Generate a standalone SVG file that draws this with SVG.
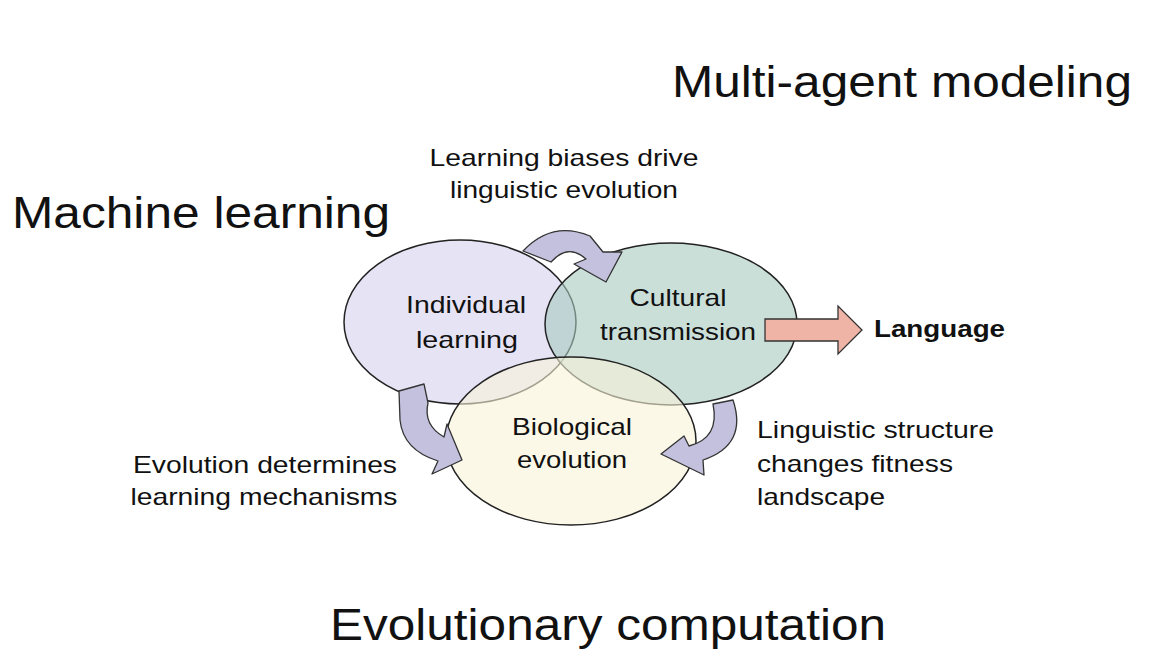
<svg xmlns="http://www.w3.org/2000/svg" width="1160" height="658" viewBox="0 0 1160 658">
<style>
text{font-family:"Liberation Sans",Arial,sans-serif;fill:#111}
.big{font-size:44px}
.s{font-size:24px;text-anchor:middle}
.l{font-size:24px}
.ell{stroke:#222;stroke-width:1.5}
.carr{fill:#c3c1dd;stroke:#333;stroke-width:1.3;stroke-linejoin:round}
</style>
<rect width="1160" height="658" fill="#fff"/>
<text class="big" x="672" y="97" textLength="460" lengthAdjust="spacingAndGlyphs">Multi-agent modeling</text>
<text class="big" x="12" y="228" textLength="378" lengthAdjust="spacingAndGlyphs">Machine learning</text>
<text class="big" x="330" y="640" textLength="556" lengthAdjust="spacingAndGlyphs">Evolutionary computation</text>
<g id="individual"><ellipse class="ell" cx="460" cy="322" rx="116" ry="82" fill="#dddaf0" fill-opacity="0.75"/></g>
<g id="cultural"><ellipse class="ell" cx="671" cy="324" rx="126" ry="81" fill="#a9c9bf" fill-opacity="0.6"/></g>
<g id="biological"><ellipse class="ell" cx="571" cy="441" rx="125" ry="84" fill="#f8f4d8" fill-opacity="0.6"/></g>
<text class="s" x="466" y="313" textLength="120" lengthAdjust="spacingAndGlyphs">Individual</text><text class="s" x="467" y="348" textLength="102" lengthAdjust="spacingAndGlyphs">learning</text>
<text class="s" x="678" y="306" textLength="97" lengthAdjust="spacingAndGlyphs">Cultural</text><text class="s" x="678" y="340" textLength="156" lengthAdjust="spacingAndGlyphs">transmission</text>
<text class="s" x="572" y="435" textLength="120" lengthAdjust="spacingAndGlyphs">Biological</text><text class="s" x="572" y="468" textLength="110" lengthAdjust="spacingAndGlyphs">evolution</text>
<g id="connectors">
<path class="carr" d="M523,251 Q552,220 590,236 L603,252 L622,252 L606,282 L574,264 L586,259 Q568,243 551,262 Z"/>
<path class="carr" d="M399,391 L424,384 L428,403 Q423,425 444,437 L447,424 L462,460 L432,474 L438,461 Q403,450 400,420 Z"/>
<path class="carr" d="M713,404 L733,400 Q748,445 703,460 L704,475 L661,454 L684,436 L689,446 Q720,438 713,404 Z"/>
<path d="M765,319 H838 V306 L862,330 L838,354 V341 H765 Z" fill="#f0b4a6" stroke="#333" stroke-width="1.3"/>
</g>
<text class="s" x="564" y="166" textLength="269" lengthAdjust="spacingAndGlyphs">Learning biases drive</text><text class="s" x="564" y="198" textLength="228" lengthAdjust="spacingAndGlyphs">linguistic evolution</text>
<text x="874" y="337" font-size="24" font-weight="bold" textLength="131" lengthAdjust="spacingAndGlyphs">Language</text>
<text class="s" x="265" y="473" textLength="264" lengthAdjust="spacingAndGlyphs">Evolution determines</text><text class="s" x="264" y="505" textLength="267" lengthAdjust="spacingAndGlyphs">learning mechanisms</text>
<text class="l" x="757" y="438" textLength="237" lengthAdjust="spacingAndGlyphs">Linguistic structure</text><text class="l" x="757" y="472" textLength="196" lengthAdjust="spacingAndGlyphs">changes fitness</text><text class="l" x="757" y="505" textLength="128" lengthAdjust="spacingAndGlyphs">landscape</text>
</svg>
